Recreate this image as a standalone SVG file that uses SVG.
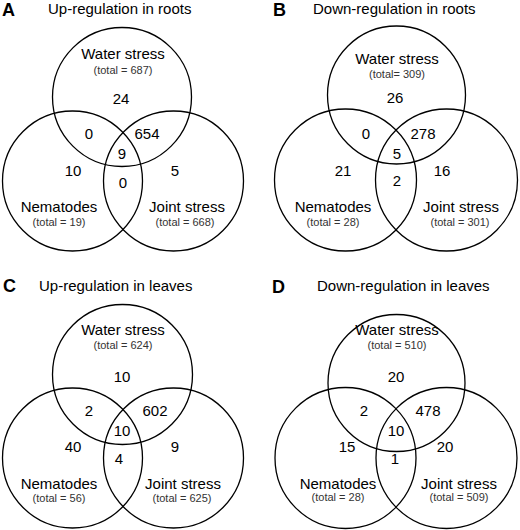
<svg xmlns="http://www.w3.org/2000/svg" width="520" height="530" viewBox="0 0 520 530">
<style>
text{font-family:"Liberation Sans",Arial,sans-serif;fill:#000}
.c{fill:none;stroke:#000;stroke-width:1.3}
.lab{font-size:15px;text-anchor:middle}
.num{font-size:15px;text-anchor:middle}
.tot{font-size:11px;text-anchor:middle;fill:#333}
.title{font-size:15px}
.let{font-size:18px;font-weight:bold}
</style>
<rect width="520" height="530" fill="#fff"/>
<!-- Panel A -->
<g id="panelA">
<text class="let" x="2" y="16">A</text>
<text class="title" x="48" y="14">Up-regulation in roots</text>
<g id="A-water"><circle class="c" cx="122" cy="97" r="69.5"/><text class="lab" x="123" y="59">Water stress</text><text class="tot" x="123" y="74">(total = 687)</text></g>
<g id="A-nema"><circle class="c" cx="72.5" cy="181" r="70"/><text class="lab" x="59" y="212">Nematodes</text><text class="tot" x="59" y="226">(total = 19)</text></g>
<g id="A-joint"><circle class="c" cx="173.5" cy="181" r="70"/><text class="lab" x="187" y="212">Joint stress</text><text class="tot" x="185" y="226">(total = 668)</text></g>
<g id="A-nums">
<text class="num" x="121" y="104">24</text>
<text class="num" x="89" y="139">0</text>
<text class="num" x="147" y="139">654</text>
<text class="num" x="122" y="159">9</text>
<text class="num" x="73" y="176">10</text>
<text class="num" x="175" y="176">5</text>
<text class="num" x="123" y="188">0</text>
</g>
</g>
<!-- Panel B -->
<g id="panelB">
<text class="let" x="273" y="16">B</text>
<text class="title" x="313" y="14">Down-regulation in roots</text>
<g id="B-water"><circle class="c" cx="396.5" cy="95" r="69"/><text class="lab" x="397" y="64">Water stress</text><text class="tot" x="397" y="78">(total= 309)</text></g>
<g id="B-nema"><circle class="c" cx="345.5" cy="180" r="71"/><text class="lab" x="333" y="212">Nematodes</text><text class="tot" x="333" y="226">(total = 28)</text></g>
<g id="B-joint"><circle class="c" cx="446.5" cy="180" r="71"/><text class="lab" x="461" y="212">Joint stress</text><text class="tot" x="460" y="226">(total = 301)</text></g>
<g id="B-nums">
<text class="num" x="395" y="103">26</text>
<text class="num" x="366" y="139">0</text>
<text class="num" x="423" y="139">278</text>
<text class="num" x="397" y="159">5</text>
<text class="num" x="343" y="176">21</text>
<text class="num" x="442" y="176">16</text>
<text class="num" x="397" y="186">2</text>
</g>
</g>
<!-- Panel C -->
<g id="panelC">
<text class="let" x="3" y="292">C</text>
<text class="title" x="39" y="291">Up-regulation in leaves</text>
<g id="C-water"><circle class="c" cx="122.5" cy="374.5" r="70"/><text class="lab" x="123" y="335">Water stress</text><text class="tot" x="123" y="349">(total = 624)</text></g>
<g id="C-nema"><circle class="c" cx="72.5" cy="458" r="70"/><text class="lab" x="59" y="489">Nematodes</text><text class="tot" x="59" y="502">(total = 56)</text></g>
<g id="C-joint"><circle class="c" cx="173.5" cy="458" r="70"/><text class="lab" x="183" y="489">Joint stress</text><text class="tot" x="182" y="502">(total = 625)</text></g>
<g id="C-nums">
<text class="num" x="122" y="382">10</text>
<text class="num" x="89" y="416">2</text>
<text class="num" x="155" y="416">602</text>
<text class="num" x="122" y="436">10</text>
<text class="num" x="73" y="452">40</text>
<text class="num" x="175" y="452">9</text>
<text class="num" x="119" y="464">4</text>
</g>
</g>
<!-- Panel D -->
<g id="panelD">
<text class="let" x="272" y="293">D</text>
<text class="title" x="317" y="291">Down-regulation in leaves</text>
<g id="D-water"><circle class="c" cx="396.5" cy="383" r="68.5"/><text class="lab" x="397" y="335">Water stress</text><text class="tot" x="397" y="349">(total = 510)</text></g>
<g id="D-nema"><circle class="c" cx="345.5" cy="458" r="70.5"/><text class="lab" x="338" y="489">Nematodes</text><text class="tot" x="338" y="501">(total = 28)</text></g>
<g id="D-joint"><circle class="c" cx="446.5" cy="458" r="70.5"/><text class="lab" x="459" y="489">Joint stress</text><text class="tot" x="459" y="501">(total = 509)</text></g>
<g id="D-nums">
<text class="num" x="396" y="382">20</text>
<text class="num" x="364" y="416">2</text>
<text class="num" x="428" y="416">478</text>
<text class="num" x="396" y="436">10</text>
<text class="num" x="347" y="452">15</text>
<text class="num" x="445" y="452">20</text>
<text class="num" x="395" y="464">1</text>
</g>
</g>
<g id="connectors"/>
</svg>
